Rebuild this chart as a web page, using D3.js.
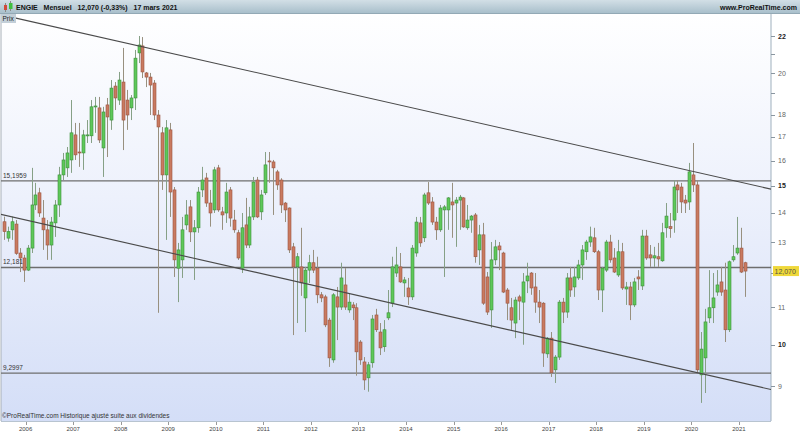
<!DOCTYPE html>
<html><head><meta charset="utf-8">
<script src="https://cdn.jsdelivr.net/npm/d3@7"></script>
<style>body{margin:0;background:#fff;} svg{display:block;font-family:"Liberation Sans",Arial,sans-serif;}</style>
</head><body><svg id="c" width="800" height="434"></svg>
<script>
// ---- data (monthly candles, first bar = Aug 2005) ----
const startYear = 2005, startMonth = 8;
const open  = [13.69,13.13,13.41,13.61,12.64,12.48,12.10,12.80,14.29,14.74,13.82,13.41,12.90,13.65,14.29,15.43,15.71,16.03,17.09,16.36,16.32,17.05,17.05,18.36,18.31,16.53,18.45,17.75,19.36,18.68,19.56,18.68,18.31,18.78,21.07,21.45,20.02,19.81,19.51,17.98,17.18,15.43,17.31,14.85,12.16,12.42,13.58,14.22,13.34,13.48,14.85,15.31,14.36,14.11,15.71,14.04,14.00,14.85,13.75,13.31,12.16,13.58,12.90,13.86,15.23,14.04,14.74,15.99,15.95,15.55,15.23,14.36,14.18,12.84,12.20,12.20,11.27,12.10,12.33,12.16,11.36,11.30,10.65,9.62,11.30,11.01,11.65,10.93,11.07,10.99,10.07,9.57,9.19,9.55,10.79,10.33,9.95,10.71,11.12,12.01,12.20,11.71,11.56,11.30,12.64,13.65,13.14,14.74,14.40,13.68,13.41,14.11,14.11,14.40,14.36,14.47,14.55,13.48,13.75,13.93,12.74,13.24,11.89,10.93,12.42,12.87,12.64,11.50,10.99,10.57,11.30,11.15,11.77,12.01,11.59,11.15,11.12,9.77,10.17,9.38,9.69,11.15,10.87,11.86,11.59,11.86,12.26,12.68,13.00,13.14,12.68,11.50,12.10,13.00,12.48,11.95,12.68,11.53,11.59,11.07,11.89,11.62,13.20,12.58,12.48,12.52,12.39,13.48,13.52,13.75,15.04,14.96,14.47,14.40,15.43,15.04,9.26,9.67,10.71,10.99,11.44,11.74,11.50,10.39,12.42,12.64,12.80,12.33];
const high  = [13.87,13.52,13.87,13.75,12.80,12.58,12.90,15.71,15.12,14.93,14.47,13.75,13.86,14.47,15.75,16.32,16.57,18.68,17.62,17.62,17.31,17.75,18.68,18.83,18.83,18.36,18.78,19.66,19.56,20.07,21.34,19.17,18.92,21.23,22.00,21.94,20.07,20.02,19.66,18.21,17.44,17.75,17.62,14.96,12.97,13.86,14.47,14.47,13.75,14.96,15.75,15.51,14.85,15.75,15.83,14.22,15.12,14.96,14.11,13.41,14.00,14.55,14.22,15.35,15.35,14.85,16.36,16.36,16.03,15.63,15.30,14.40,14.20,12.97,12.64,13.48,12.20,12.58,12.74,12.52,11.44,11.36,10.71,11.41,11.59,12.33,12.16,11.41,11.15,11.12,10.12,9.69,9.57,10.79,10.96,10.57,10.65,11.50,12.52,12.84,12.64,11.89,11.86,12.90,13.86,13.86,14.74,15.15,14.58,13.86,14.29,14.29,14.58,15.12,14.58,14.66,14.58,14.29,13.93,14.00,13.58,13.65,12.04,13.00,13.07,13.00,12.68,11.56,11.27,11.30,11.36,12.01,12.33,12.04,12.01,11.50,11.15,10.20,10.33,9.74,11.21,11.27,12.01,12.20,12.20,12.42,12.90,13.07,13.52,13.48,12.74,12.20,13.07,13.24,12.80,13.07,12.97,11.74,11.74,11.86,12.10,13.41,13.41,12.90,12.84,12.97,13.65,14.36,14.00,15.23,15.23,15.12,14.66,15.91,16.74,15.23,10.33,10.96,12.10,12.01,12.10,12.20,12.33,12.40,12.90,13.86,13.48,12.36];
const low   = [13.07,13.01,13.07,12.58,12.04,11.74,12.07,12.64,14.11,13.86,12.74,12.42,12.42,13.17,13.86,15.23,15.35,15.51,16.03,15.75,15.63,16.74,16.74,17.18,16.74,15.35,16.15,17.31,18.21,18.45,16.44,17.31,17.75,18.21,20.53,19.76,19.31,17.98,17.75,10.85,14.85,13.07,13.86,11.89,11.15,11.86,13.41,13.00,11.80,13.31,14.58,14.22,13.52,14.00,14.04,13.41,13.65,13.52,13.31,12.42,12.01,12.80,12.80,13.75,13.82,13.75,14.66,15.12,13.93,14.85,14.00,13.68,12.64,10.25,10.57,11.33,10.33,11.71,12.01,11.12,11.15,10.46,9.45,9.55,10.12,10.93,10.93,10.85,10.65,9.24,9.50,8.91,8.87,9.43,10.33,9.74,9.82,10.65,11.01,11.89,11.71,11.30,11.07,11.21,12.52,12.84,13.00,14.29,13.58,13.07,13.34,11.89,13.41,13.14,12.84,13.41,13.48,13.41,13.31,12.33,12.26,11.07,10.79,10.44,12.26,12.10,11.41,10.65,10.39,10.17,10.65,10.00,11.41,11.36,10.85,10.57,9.45,9.67,9.21,9.07,9.62,10.57,10.71,11.30,11.30,11.80,11.80,12.42,12.84,12.64,11.21,10.87,12.04,12.33,12.01,11.89,11.50,11.07,10.65,11.01,11.50,11.50,12.42,12.20,12.20,12.20,12.36,13.14,13.14,13.31,14.00,14.00,14.00,14.11,14.77,9.31,8.62,8.84,10.57,10.57,11.33,11.33,10.07,10.33,12.36,12.58,12.01,11.30];
const close = [13.35,13.35,13.69,12.63,12.48,12.10,12.80,14.29,14.66,14.00,13.41,12.90,13.68,14.29,15.43,16.03,16.32,17.18,16.24,16.32,17.09,17.09,18.36,18.40,16.87,18.12,17.89,19.26,18.78,19.66,17.75,17.98,18.78,20.79,21.50,20.07,19.81,19.41,17.98,17.44,15.43,17.40,14.77,12.42,12.74,13.41,13.93,13.34,13.48,14.77,15.23,14.36,14.00,15.63,14.11,13.93,14.77,13.82,13.41,12.48,13.48,12.90,13.86,15.15,13.86,14.66,15.83,15.95,15.71,15.04,14.29,14.11,12.74,12.20,12.52,11.71,12.10,12.33,12.10,11.36,11.27,10.52,9.67,11.36,11.01,11.86,11.01,11.15,10.99,9.82,9.62,9.14,9.50,10.68,10.39,9.92,10.39,10.85,12.20,12.26,11.74,11.80,11.30,12.80,13.68,12.97,14.66,14.36,13.68,13.41,14.18,14.22,14.55,14.29,14.47,14.58,13.51,13.75,13.89,12.52,13.24,11.12,10.87,12.42,12.84,12.74,11.44,11.12,10.65,11.21,11.18,11.74,11.92,11.56,11.15,11.01,9.79,10.17,9.31,9.69,11.15,10.87,11.86,11.50,11.89,12.26,12.74,13.00,13.17,12.68,11.50,12.16,13.00,12.42,12.04,12.68,11.56,11.59,11.07,11.74,11.83,13.20,12.48,12.48,12.55,12.45,13.31,13.89,13.45,14.96,14.85,14.40,14.36,15.55,15.04,9.38,9.89,10.60,10.99,11.27,11.65,11.44,10.39,12.36,12.52,12.80,12.04,12.07];

const years      = [2006,2007,2008,2009,2010,2011,2012,2013,2014,2015,2016,2017,2018,2019,2020,2021];
const yTicks     = [9,10,11,12,13,14,15,16,17,18,19,20,21,22];
const yLabels    = [9,10,11,13,14,15,16,17,18,20,22]; // "12" is hidden under the last-price tag
const boldLabels = [10,15,22];
const levels     = [15.1959, 12.181, 9.2997];
const levelText  = ["15,1959","12,181","9,2997"];
// trend lines: [month index from Jan 2006, price]
const upperTrend = [[-5, 23.19], [188.6, 14.88]];
const lowerTrend = [[-6.01, 13.96], [188.6, 8.92]];
const lastPrice = 12.07, lastText = "12,070";
const titleText = "ENGIE   Mensuel   12,070 (-0,33%)   17 mars 2021";

// ---- chart ----
const svg = d3.select("#c");
const W = 800, H = 434;
const plot = {l:1, r:771, t:14, b:421};

const x = d3.scaleLinear().domain([-5.7, 188.6]).range([plot.l, plot.r]);
const y = d3.scaleLog().domain([9, 22]).range([386, 36]);
const m0 = (startYear-2006)*12 + (startMonth-1);
const bars = open.map((o,i)=>({m:m0+i, o, h:high[i], l:low[i], c:close[i]}));

const defs = svg.append("defs");
const g1 = defs.append("linearGradient").attr("id","bg").attr("x1",0).attr("y1",0).attr("x2",0).attr("y2",1);
g1.append("stop").attr("offset","0").attr("stop-color","#ffffff");
g1.append("stop").attr("offset","0.45").attr("stop-color","#edf1fc");
g1.append("stop").attr("offset","1").attr("stop-color","#d4def7");
const g2 = defs.append("linearGradient").attr("id","tb").attr("x1",0).attr("y1",0).attr("x2",0).attr("y2",1);
g2.append("stop").attr("offset","0").attr("stop-color","#d2dfe6");
g2.append("stop").attr("offset","1").attr("stop-color","#a9bfcb");
defs.append("clipPath").attr("id","clip").append("rect")
  .attr("x",plot.l).attr("y",plot.t).attr("width",plot.r-plot.l).attr("height",plot.b-plot.t);

svg.append("rect").attr("width",W).attr("height",H).attr("fill","#fff");
svg.append("rect").attr("x",plot.l).attr("y",plot.t).attr("width",plot.r-plot.l).attr("height",plot.b-plot.t).attr("fill","url(#bg)");
svg.append("line").attr("x1",plot.l).attr("x2",plot.l).attr("y1",plot.t).attr("y2",plot.b).attr("stroke","#a8b0b8");
svg.append("line").attr("x1",plot.r).attr("x2",plot.r).attr("y1",plot.t).attr("y2",plot.b).attr("stroke","#9fb0bd");
svg.append("line").attr("x1",plot.l).attr("x2",plot.r).attr("y1",plot.b+0.5).attr("y2",plot.b+0.5).attr("stroke","#b8c4d0");

const pg = svg.append("g").attr("clip-path","url(#clip)");

// horizontal levels
pg.selectAll("line.lvl").data(levels).join("line")
  .attr("x1",plot.l).attr("x2",plot.r)
  .attr("y1",d=>y(d)).attr("y2",d=>y(d))
  .attr("stroke","#6e6e6e").attr("stroke-width",1.4);

// candles
const cg = pg.append("g");
cg.selectAll("line.w").data(bars).join("line")
  .attr("x1",d=>Math.round(x(d.m))+0.5).attr("x2",d=>Math.round(x(d.m))+0.5)
  .attr("y1",d=>y(d.h)).attr("y2",d=>y(d.l))
  .attr("stroke",d=>d.c>=d.o?"#86a086":"#98907f").attr("stroke-width",1);
cg.selectAll("rect.b").data(bars).join("rect")
  .attr("x",d=>Math.round(x(d.m))-1)
  .attr("width",3)
  .attr("y",d=>y(Math.max(d.o,d.c)))
  .attr("height",d=>Math.max(1,Math.abs(y(d.o)-y(d.c))))
  .attr("fill",d=>d.c>=d.o?"#5ec85a":"#c97a60")
  .attr("stroke",d=>d.c>=d.o?"#3d8f3a":"#9a5542").attr("stroke-width",0.6);

// trend lines
const tl = d3.line().x(d=>x(d[0])).y(d=>y(d[1]));
[upperTrend, lowerTrend].forEach(t=>{
  pg.append("path").attr("d",tl(t)).attr("fill","none").attr("stroke","#4a4a4a").attr("stroke-width",1.1);
});

// level labels
svg.selectAll("text.lv").data(levels).join("text")
  .attr("x",3).attr("y",d=>y(d)-3)
  .attr("font-size",6.5).attr("fill","#333").text((d,i)=>levelText[i]);

// y axis
const ya = svg.append("g");
ya.selectAll("line").data(yTicks).join("line")
  .attr("x1",plot.r).attr("x2",plot.r+4)
  .attr("y1",d=>Math.round(y(d))+0.5).attr("y2",d=>Math.round(y(d))+0.5)
  .attr("stroke","#8a96a0");
ya.selectAll("text").data(yLabels).join("text")
  .attr("x",plot.r+7).attr("y",d=>y(d)+2.5)
  .attr("font-size",7)
  .attr("font-weight",d=>boldLabels.includes(d)?"bold":"normal")
  .attr("fill",d=>boldLabels.includes(d)?"#222":"#666")
  .text(d=>d);

// last price tag
svg.append("rect").attr("x",plot.r+2).attr("y",y(lastPrice)-5).attr("width",26).attr("height",10).attr("fill","#efd83a");
svg.append("text").attr("x",plot.r+3.5).attr("y",y(lastPrice)+2.5).attr("font-size",7).attr("fill","#554").text(lastText);

// x axis
const xa = svg.append("g");
xa.selectAll("line").data(years).join("line")
  .attr("x1",d=>Math.round(x((d-2006)*12))+2.5).attr("x2",d=>Math.round(x((d-2006)*12))+2.5)
  .attr("y1",plot.b+1).attr("y2",plot.b+4).attr("stroke","#999");
xa.selectAll("text").data(years).join("text")
  .attr("x",d=>x((d-2006)*12)+2).attr("y",431)
  .attr("text-anchor","middle").attr("font-size",6).attr("fill","#444").text(d=>d);

// copyright
svg.append("text").attr("x",2).attr("y",418).attr("font-size",6.5).attr("fill","#333")
  .text("©ProRealTime.com Historique ajusté suite aux dividendes");

// title bar
svg.append("rect").attr("x",0).attr("y",0).attr("width",W).attr("height",13).attr("fill","url(#tb)");
svg.append("line").attr("x1",0).attr("x2",W).attr("y1",13.5).attr("y2",13.5).attr("stroke","#93a9b5");
// icon
svg.append("line").attr("x1",5.5).attr("x2",5.5).attr("y1",3).attr("y2",12).attr("stroke","#888");
svg.append("rect").attr("x",4).attr("y",5).attr("width",3).attr("height",5).attr("fill","#d04a3a");
svg.append("line").attr("x1",10.5).attr("x2",10.5).attr("y1",1).attr("y2",11).attr("stroke","#888");
svg.append("rect").attr("x",9).attr("y",3).attr("width",3.5).attr("height",6).attr("fill","#3fbf3f");
svg.append("text").attr("x",16).attr("y",9.5).attr("font-size",7).attr("font-weight","bold").attr("fill","#111")
  .attr("xml:space","preserve").style("white-space","pre").text(titleText);
svg.append("text").attr("x",797).attr("y",9.5).attr("text-anchor","end").attr("font-size",7).attr("font-weight","bold").attr("fill","#111")
  .text("www.ProRealTime.com");
// Prix tag
svg.append("rect").attr("x",1).attr("y",14).attr("width",15).attr("height",9).attr("fill","#c3cfd8");
svg.append("text").attr("x",2.5).attr("y",21).attr("font-size",6.5).attr("fill","#222").text("Prix");
</script></body></html>
